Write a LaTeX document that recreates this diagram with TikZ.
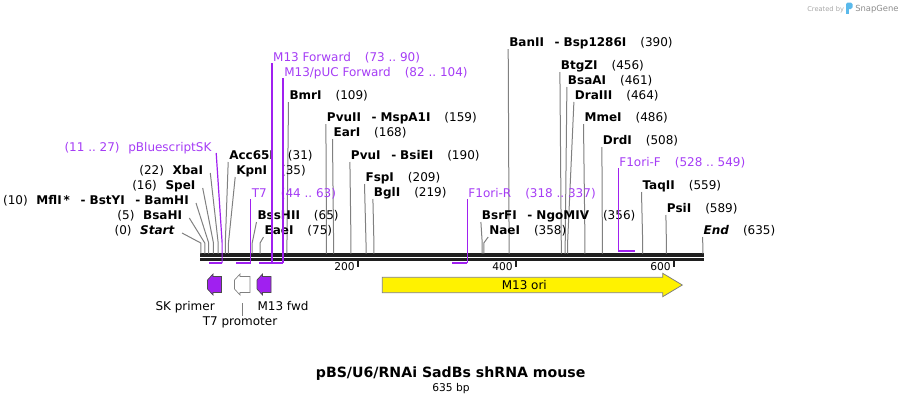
\documentclass[tikz,border=0pt]{standalone}
\usepackage{fontspec}
\setmainfont{DejaVu Sans}
\usepackage{tikz}
\definecolor{primer}{RGB}{160,32,240}
\definecolor{primertext}{RGB}{165,60,245}
\definecolor{leadgray}{RGB}{128,128,128}
\definecolor{snapblue}{RGB}{90,185,235}
\newcommand{\bpToX}[1]{200.8+0.7905*#1}
\newcommand{\sitegap}{\hspace{10.5pt}}
\newcommand{\dsh}{\hspace{8pt}-\hspace{3pt}}
\tikzset{
  site/.style={inner sep=0pt, font=\fontsize{9}{11}\selectfont},
  primerlabel/.style={inner sep=0pt, text=primertext, font=\fontsize{9}{11}\selectfont},
  leader/.style={draw=leadgray, line width=0.75pt},
  primerline/.style={draw=primer, line width=0.9pt},
  primerbar/.style={draw=primer, line width=1.6pt},
  featlabel/.style={inner sep=0pt, font=\fontsize{9}{11}\selectfont},
  ticklabel/.style={inner sep=0pt, font=\fontsize{8}{10}\selectfont},
}

\begin{document}
\begin{tikzpicture}[x=0.75pt, y=-0.75pt]
  \useasboundingbox (0,0) rectangle (904,404);

  % Backbone
  \draw[black!88, line width=2.3pt] (200,255) -- (703.5,255);
  \draw[black!88, line width=2.3pt] (200,259.2) -- (703.5,259.2);

  % Scale
  \foreach \tx/\num in {358/200, 516/400, 674/600} {
    \draw[black!88, line width=1.6pt] (\tx,261) -- (\tx,267);
    \node[ticklabel, anchor=base east] (tick\num) at (\tx-3,270.5) {\num};
  }

  % Sites, label to the right
  \foreach \bp/\lx/\by/\name [count=\i] in {
      390/509/46/{BanII\dsh Bsp1286I}, 456/560.7/69/BtgZI, 461/567.7/84/BsaAI,
      464/574.7/99/DraIII, 486/584.3/121/MmeI, 508/602.7/144/DrdI,
      559/642.3/189/TaqII, 589/666.7/212/PsiI, 635/703.3/234/{\textit{End}},
      356/481.7/219/{BsrFI\dsh NgoMIV}, 358/489/234/NaeI, 109/289.3/99/BmrI,
      159/326.7/121/{PvuII\dsh MspA1I}, 168/333.3/136/EarI,
      190/350.7/159/{PvuI\dsh BsiEI}, 209/365.3/181/FspI, 219/373.7/196/BglI,
      65/257.3/219/BssHII, 75/264.3/234/EaeI, 31/229/159/Acc65I, 35/236/174/KpnI} {
    \pgfmathsetmacro{\sx}{\bpToX{\bp}}
    \node[site, anchor=base west] (rs\i) at (\lx,\by) {\textbf{\name}\sitegap(\bp)};
    \coordinate (rs\i-cut) at (\sx,253.5);
    \draw[leader] (rs\i.base west) ++(-0.8,3) -- (\sx,243) -- (rs\i-cut);
  }

  % Sites, label to the left
  \foreach \bp/\rx/\by/\name [count=\i] in {
      0/175/234/{\textit{Start}}, 5/182.3/219/BsaHI,
      10/189/204/{MflI\,*\dsh BstYI\dsh BamHI}, 16/195.7/189/SpeI, 22/203.3/174/XbaI} {
    \pgfmathsetmacro{\sx}{\bpToX{\bp}}
    \node[site, anchor=base east] (ls\i) at (\rx,\by) {(\bp)\hspace{6.5pt}\textbf{\name}};
    \coordinate (ls\i-cut) at (\sx,253.5);
    \draw[leader] (ls\i.base east) ++(7,-1) -- (\sx,243) -- (ls\i-cut);
  }

  % Primers
  \foreach \from/\to/\by/\name [count=\i] in {
      44/63/197/T7, 73/90/61/{M13 Forward}, 82/104/76/{M13/pUC Forward}, 318/337/197/F1ori-R} {
    \pgfmathsetmacro{\fx}{\bpToX{\from}}
    \pgfmathsetmacro{\tx}{\bpToX{\to}}
    \node[primerlabel, anchor=base west] (pr\i) at (\tx+1,\by) {\name\sitegap(\from\ ..\ \to)};
    \coordinate (pr\i-bind) at (\fx,263);
    \draw[primerline] (pr\i.base west) ++(-1,2) -- (\tx,263);
    \draw[primerbar] (\tx,263) -- (pr\i-bind);
  }
  \pgfmathsetmacro{\fx}{\bpToX{11}}
  \pgfmathsetmacro{\tx}{\bpToX{27}}
  \node[primerlabel, anchor=base east] (sk) at (211.7,151) {(11\ ..\ 27)\hspace{6.5pt}pBluescriptSK};
  \coordinate (sk-bind) at (\fx,263);
  \draw[primerline] (sk.base east) ++(4.5,2) -- (\tx,243) -- (\tx,263);
  \draw[primerbar] (\tx,263) -- (sk-bind);
  \pgfmathsetmacro{\fx}{\bpToX{528}}
  \pgfmathsetmacro{\tx}{\bpToX{549}}
  \node[primerlabel, anchor=base west] (f1f) at (\fx+1,166) {F1ori-F\sitegap(528\ ..\ 549)};
  \coordinate (f1f-bind) at (\tx,250.7);
  \draw[primerline] (f1f.base west) ++(-1,2) -- (\fx,250.7);
  \draw[primerbar] (\fx,250.7) -- (f1f-bind);

  % Features
  \foreach \fa/\fb/\fc/\lc in {207.5/221.5/primer/black!70, 234.5/250/white/leadgray, 257/271/primer/black!70} {
    \draw[fill=\fc, draw=\lc, line width=0.5pt] (\fb,276.5) -- (\fa+5.5,276.5) -- (\fa+5.5,274)
      -- (\fa,280) -- (\fa,289) -- (\fa+5.5,295) -- (\fa+5.5,292.5) -- (\fb,292.5) -- cycle;
  }
  \node[featlabel, anchor=base east] (skprimer) at (215,310) {SK primer};
  \node[featlabel, anchor=base west] (m13fwd) at (257.3,310) {M13 fwd};
  \node[featlabel, anchor=base] (t7prom) at (240,325.5) {T7 promoter};
  \coordinate (t7prom-foot) at (242.3,303.3);
  \draw[leader] (t7prom-foot) -- (t7prom-foot |- t7prom.north);

  \draw[fill=yellow, draw=leadgray, line width=0.6pt] (382.3,277.3) -- (662.7,277.3) -- (662.7,273.3)
    -- (682.3,285) -- (662.7,296.7) -- (662.7,292.7) -- (382.3,292.7) -- cycle;
  \node[featlabel] (m13ori) at (524.3,285) {M13 ori};

  % Title
  \node[anchor=base, font=\bfseries\fontsize{10.6}{12}\selectfont] (title) at (450.7,377.3) {pBS/U6/RNAi SadBs shRNA mouse};
  \node[anchor=base, font=\fontsize{8}{10}\selectfont] (length) at (451,391) {635 bp};

  % Credit
  \node[anchor=base west, inner sep=0pt, text=black!35, font=\fontsize{5}{6}\selectfont] (credit) at (807,11) {Created by};
  \fill[snapblue, rounded corners=1.2pt] (846,2.5) rectangle (852.5,9);
  \fill[snapblue] (846,5) rectangle (849,13.5);
  \node[anchor=base west, inner sep=0pt, text=black!45, font=\fontsize{6.3}{7}\selectfont] (snapgene) at (855,11.5) {SnapGene};
\end{tikzpicture}
\end{document}
